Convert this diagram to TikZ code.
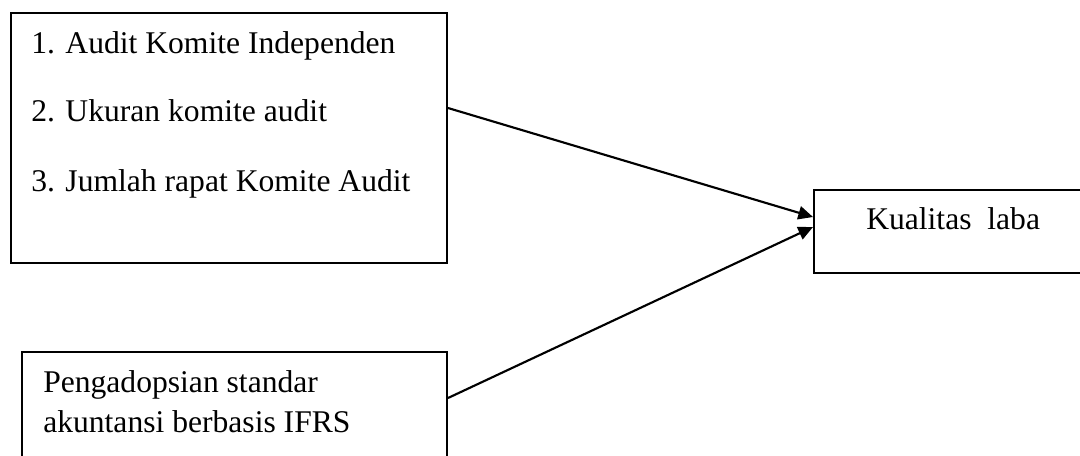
\documentclass[tikz,border=0pt]{standalone}
\usepackage{fontspec}
\setmainfont{Liberation Serif}
\usetikzlibrary{arrows.meta,calc}
\begin{document}
\begin{tikzpicture}[x=0.75pt,y=-0.75pt,
  box/.style={draw=black,line width=1.5pt,rectangle,anchor=north west,inner sep=0pt},
  lbl/.style={anchor=base west,inner sep=0pt,font=\fontsize{23.7pt}{28pt}\selectfont},
  arr/.style={line width=1.6pt,-{Triangle[length=11pt,width=10pt]}}]
\useasboundingbox (0,0) rectangle (1080,455);
\clip (0,0) rectangle (1080,455);
\fill[white] (0,0) rectangle (1080,455);
% boxes
\node[box,minimum width=327pt,minimum height=187.5pt] (b1) at (10,12) {};
\node[box,minimum width=225pt,minimum height=62.25pt] (b2) at (813,189) {};
\node[box,minimum width=318.75pt,minimum height=93pt] (b3) at (21,351) {};
% texts
\node[lbl] (t1) at (31,53) {1. Audit Komite Independen};
\node[lbl] (t2) at (31,121) {2. Ukuran komite audit};
\node[lbl] (t3) at (31,191) {3. Jumlah rapat Komite Audit};
\node[lbl] (t4) at (866,229) {Kualitas\ \ laba};
\node[lbl] (t5) at (43,392) {Pengadopsian standar};
\node[lbl] (t6) at (43,432) {akuntansi berbasis IFRS};
% connectors
\draw[arr] ($(b1.north east)+(0,96)$) -- ($(b2.north west)+(0,28)$);
\draw[arr] ($(b3.north east)+(0,47)$) -- ($(b2.north west)+(0,38)$);
\end{tikzpicture}
\end{document}
